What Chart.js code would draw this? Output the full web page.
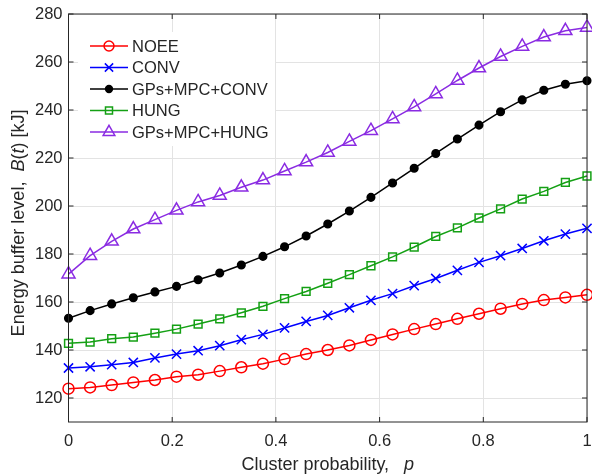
<!DOCTYPE html>
<html>
<head>
<meta charset="utf-8">
<script src="https://cdn.jsdelivr.net/npm/chart.js@4"></script>
<style>
  html, body { margin: 0; padding: 0; background: #fff; }
  #wrap { width: 592px; height: 476px; }
</style>
</head>
<body>
<div id="wrap"><canvas id="bufferChart" width="592" height="476"></canvas></div>
<script>
// cluster probability p: 25 points from 0 to 1
const pValues = [0, 0.0417, 0.0833, 0.125, 0.1667, 0.2083, 0.25, 0.2917, 0.3333, 0.375, 0.4167, 0.4583,
  0.5, 0.5417, 0.5833, 0.625, 0.6667, 0.7083, 0.75, 0.7917, 0.8333, 0.875, 0.9167, 0.9583, 1];

// energy buffer level B(t) [kJ]
const noee = [123.9, 124.4, 125.4, 126.5, 127.5, 128.9, 129.7, 131.2, 132.8, 134.3, 136.2, 138.3,
  140.0, 141.9, 144.2, 146.5, 148.7, 150.8, 153.0, 155.1, 157.2, 159.2, 160.8, 161.9, 163.0];
const conv = [132.5, 133.0, 133.9, 134.8, 136.7, 138.3, 139.7, 141.8, 144.3, 146.5, 149.2, 151.9,
  154.4, 157.6, 160.7, 163.5, 166.8, 169.8, 173.2, 176.5, 179.3, 182.3, 185.5, 188.3, 190.7];
const gpsConv = [153.2, 156.4, 159.2, 161.8, 164.2, 166.5, 169.3, 172.1, 175.4, 179.0, 183.0, 187.5,
  192.5, 197.9, 203.6, 209.6, 215.7, 221.9, 227.9, 233.7, 239.3, 244.2, 248.2, 250.7, 252.2];
const hung = [142.8, 143.3, 144.7, 145.4, 147.0, 148.7, 150.8, 153.0, 155.5, 158.2, 161.4, 164.4,
  167.8, 171.4, 175.1, 178.8, 182.9, 187.3, 190.9, 195.0, 198.8, 202.9, 206.1, 209.8, 212.5];
const gpsHung = [171.6, 179.3, 185.3, 190.4, 194.3, 198.2, 201.7, 204.4, 207.8, 210.8, 214.6, 218.3,
  222.3, 226.9, 231.4, 236.3, 241.3, 246.7, 252.3, 257.5, 262.3, 266.5, 270.4, 273.0, 274.4];

const xTicks = [0, 0.2, 0.4, 0.6, 0.8, 1];
const yTicks = [120, 140, 160, 180, 200, 220, 240, 260, 280];

const axisColor = '#262626';
const gridColor = '#e3e3e3';
const font = '"Liberation Sans", Arial, sans-serif';

function series(label, values, color, style, radius, fill) {
  return {
    label: label,
    data: values.map((v, i) => ({ x: pValues[i], y: v })),
    borderColor: color,
    backgroundColor: fill ? color : 'rgba(0,0,0,0)',
    pointStyle: style,
    pointRadius: radius,
    pointBorderWidth: 1.5,
    pointBorderColor: color,
    pointBackgroundColor: fill ? color : 'rgba(0,0,0,0)',
    borderWidth: 1.5,
    tension: 0,
    clip: false
  };
}

const datasets = [
  series('NOEE', noee, '#ff0000', 'circle', 5.5, false),
  series('CONV', conv, '#0000ff', 'crossRot', 6.5, false),
  series('GPs+MPC+CONV', gpsConv, '#000000', 'circle', 3.8, true),
  series('HUNG', hung, '#14a014', 'rect', 5.5, false),
  series('GPs+MPC+HUNG', gpsHung, '#8a2be2', 'triangle', 7.5, false)
];

// box, inward tick marks, legend and axis titles the MATLAB way
const matlabFrame = {
  id: 'matlabFrame',
  beforeDatasetsDraw(chart) {
    const { ctx } = chart;
    // legend background hides grid lines behind it
    ctx.save();
    ctx.fillStyle = '#fff';
    ctx.fillRect(78, 32, 197, 114);
    ctx.restore();
  },
  afterDraw(chart) {
    const { ctx, chartArea: a, scales } = chart;
    ctx.save();
    ctx.strokeStyle = axisColor;
    ctx.lineWidth = 1;
    ctx.strokeRect(a.left, a.top, a.right - a.left, a.bottom - a.top);
    const t = 5;
    ctx.beginPath();
    xTicks.forEach(v => {
      const x = scales.x.getPixelForValue(v);
      ctx.moveTo(x, a.bottom); ctx.lineTo(x, a.bottom - t);
      ctx.moveTo(x, a.top); ctx.lineTo(x, a.top + t);
    });
    yTicks.forEach(v => {
      const y = scales.y.getPixelForValue(v);
      ctx.moveTo(a.left, y); ctx.lineTo(a.left + t, y);
      ctx.moveTo(a.right, y); ctx.lineTo(a.right - t, y);
    });
    ctx.stroke();

    // legend
    const rowY = [46, 67.5, 89, 110.5, 132];
    chart.data.datasets.forEach((ds, i) => {
      const y = rowY[i];
      ctx.strokeStyle = ds.borderColor;
      ctx.lineWidth = 1.5;
      ctx.beginPath();
      ctx.moveTo(90, y); ctx.lineTo(128, y);
      ctx.stroke();
      ctx.fillStyle = ds.pointBackgroundColor;
      ctx.strokeStyle = ds.borderColor;
      Chart.helpers.drawPoint(ctx, {
        pointStyle: ds.pointStyle,
        radius: ds.pointRadius * 0.9,
        borderWidth: 1.5,
        rotation: 0
      }, 109, y);
      ctx.fillStyle = axisColor;
      ctx.font = '16.5px ' + font;
      ctx.textBaseline = 'middle';
      ctx.textAlign = 'left';
      ctx.fillText(ds.label, 132, y + 1);
    });

    // axis titles with italic symbols
    ctx.fillStyle = axisColor;
    ctx.textBaseline = 'alphabetic';
    const xParts = [['Cluster probability,   ', ''], ['p', 'italic ']];
    drawParts(ctx, xParts, (a.left + a.right) / 2, 470);
    ctx.save();
    ctx.translate(24, 223);
    ctx.rotate(-Math.PI / 2);
    const yParts = [['Energy buffer level,  ', ''], ['B', 'italic '], ['(', ''], ['t', 'italic '], [') [kJ]', '']];
    drawParts(ctx, yParts, 0, 0);
    ctx.restore();
    ctx.restore();
  }
};

function drawParts(ctx, parts, cx, y) {
  let total = 0;
  parts.forEach(p => { ctx.font = p[1] + '18px ' + font; total += ctx.measureText(p[0]).width; });
  let x = cx - total / 2;
  ctx.textAlign = 'left';
  parts.forEach(p => {
    ctx.font = p[1] + '18px ' + font;
    ctx.fillText(p[0], x, y);
    x += ctx.measureText(p[0]).width;
  });
}

const ctx = document.getElementById('bufferChart').getContext('2d');
const bufferChart = new Chart(ctx, {
  type: 'line',
  data: { datasets: datasets },
  options: {
    responsive: false,
    animation: false,
    layout: { autoPadding: false, padding: { top: 14, right: 5, left: 0, bottom: 0 } },
    plugins: { legend: { display: false }, tooltip: { enabled: false } },
    scales: {
      x: {
        type: 'linear',
        min: 0,
        max: 1,
        afterBuildTicks: s => { s.ticks = xTicks.map(v => ({ value: v })); },
        afterFit: s => { s.height = 54; s.paddingLeft = 0; s.paddingRight = 0; },
        grid: { color: gridColor, drawTicks: false },
        border: { display: false },
        ticks: {
          padding: 10,
          color: axisColor,
          font: { family: font, size: 16.5 },
          callback: v => String(+v.toFixed(1))
        }
      },
      y: {
        type: 'linear',
        min: 110,
        max: 280,
        afterBuildTicks: s => { s.ticks = yTicks.map(v => ({ value: v })); },
        afterFit: s => { s.width = 68.5; s.paddingTop = 0; s.paddingBottom = 0; },
        grid: { color: gridColor, drawTicks: false },
        border: { display: false },
        ticks: {
          padding: 6,
          color: axisColor,
          font: { family: font, size: 16.5 }
        }
      }
    }
  },
  plugins: [matlabFrame]
});
</script>
</body>
</html>
